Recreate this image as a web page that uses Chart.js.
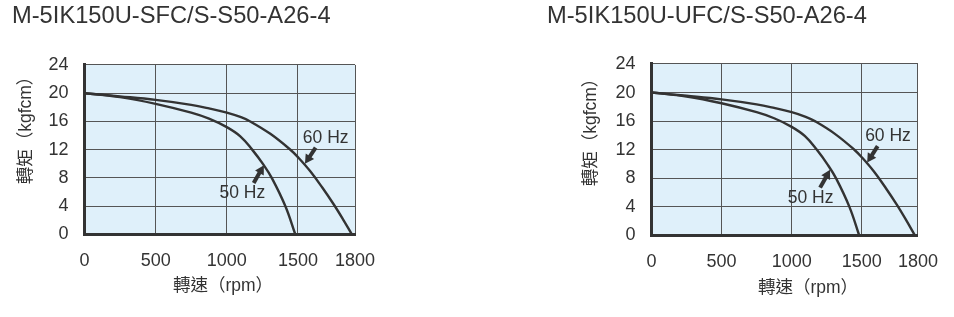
<!DOCTYPE html>
<html>
<head>
<meta charset="utf-8">
<script src="https://cdn.jsdelivr.net/npm/chart.js@4.4.0/dist/chart.umd.min.js"></script>
<style>
  html, body { margin: 0; padding: 0; background: #fff; }
  body { width: 954px; height: 317px; position: relative; overflow: hidden; }
  canvas { position: absolute; top: 0; }
</style>
</head>
<body>
<canvas id="left" width="477" height="317" style="left:0"></canvas>
<canvas id="right" width="477" height="317" style="left:477px"></canvas>
<script>
// torque / speed curves (same motor for both gearheads)
const rpm50 = [0, 250, 500, 750, 875, 1000, 1095, 1177, 1259, 1318, 1412, 1482];
const torque50 = [20, 19.45, 18.5, 17.25, 16.4, 15.2, 13.9, 12.05, 9.85, 7.95, 4.0, 0];
const rpm60 = [0, 250, 500, 750, 875, 1000, 1100, 1165, 1306, 1447, 1500, 1565, 1628, 1686, 1737, 1784];
const torque60 = [20, 19.55, 19.05, 18.35, 17.85, 17.25, 16.6, 16.0, 14.25, 12.0, 10.95, 8.95, 6.65, 4.35, 2.15, 0];

const xTicks = [0, 500, 1000, 1500, 1800];
const yTicks = [0, 4, 8, 12, 16, 20, 24];

const titles = ['M-5IK150U-SFC/S-S50-A26-4', 'M-5IK150U-UFC/S-S50-A26-4'];
const xTitle = '轉速（rpm）';
const yTitle = '轉矩（kgfcm）';
const hzText = ['50 Hz', '60 Hz'];

const LATIN = '"Liberation Sans", "Noto Sans CJK TC", Arial, sans-serif';
const INK = '#333';

// the last column (1500-1800) is drawn narrower than the 500 rpm columns
const BEND_VALUE = 1500;
const BEND_AT = 0.789;

class BentScale extends Chart.LinearScale {
  static id = 'bent';
  static defaults = {};
  getPixelForValue(value) {
    if (value === null || value === undefined || isNaN(value)) return NaN;
    const d = value <= BEND_VALUE
      ? value / BEND_VALUE * BEND_AT
      : BEND_AT + (value - BEND_VALUE) / (this.max - BEND_VALUE) * (1 - BEND_AT);
    return this.getPixelForDecimal(d);
  }
  getValueForPixel(pixel) {
    const d = this.getDecimalForPixel(pixel);
    return d <= BEND_AT
      ? d / BEND_AT * BEND_VALUE
      : BEND_VALUE + (d - BEND_AT) / (1 - BEND_AT) * (this.max - BEND_VALUE);
  }
}
Chart.register(BentScale);

// layout of each panel (canvas pixels) and where the labels/arrows sit (data units)
const panels = [
  {
    id: 'left', padLeft: 12, yAxisW: 72.5, padRight: 122, titleGap: 34.5, xAxisH: 82.5,
    yTitleAt: [26.5, 126], xTitleAt: [223, 286],
    labels: [[1109, 5.8], [1646, 13.7]],
    arrows: [[[1189, 7.3], [1261, 9.8]], [[1593, 12.3], [1537, 10.0]]]
  },
  {
    id: 'right', padLeft: 70, yAxisW: 104.5, padRight: 29.7, titleGap: 33.5, xAxisH: 81.5,
    yTitleAt: [114.5, 128], xTitleAt: [331, 288],
    labels: [[1135, 5.2], [1640, 13.9]],
    arrows: [[[1203, 6.7], [1274, 9.2]], [[1585, 12.5], [1529, 10.2]]]
  }
];

const plotFill = {
  id: 'plotFill',
  beforeDraw(chart) {
    const { ctx, chartArea: a } = chart;
    ctx.save();
    ctx.fillStyle = '#dff0fa';
    ctx.fillRect(a.left, a.top, a.right - a.left, a.bottom - a.top);
    ctx.restore();
  }
};

function drawArrow(ctx, x1, y1, x2, y2) {
  const ang = Math.atan2(y2 - y1, x2 - x1);
  const head = 9, half = 5;
  const bx = x2 - head * Math.cos(ang), by = y2 - head * Math.sin(ang);
  ctx.lineWidth = 4;
  ctx.beginPath();
  ctx.moveTo(x1, y1);
  ctx.lineTo(bx + 0.5 * Math.cos(ang), by + 0.5 * Math.sin(ang));
  ctx.stroke();
  ctx.beginPath();
  ctx.moveTo(x2, y2);
  ctx.lineTo(bx + half * Math.sin(ang), by - half * Math.cos(ang));
  ctx.lineTo(bx - half * Math.sin(ang), by + half * Math.cos(ang));
  ctx.closePath();
  ctx.fill();
}

const extras = {
  id: 'extras',
  afterDatasetsDraw(chart, args, opts) {
    const { ctx, scales: { x, y } } = chart;
    const p = opts.panel;
    ctx.save();
    ctx.fillStyle = INK;
    ctx.strokeStyle = INK;
    ctx.textAlign = 'center';
    ctx.textBaseline = 'middle';

    ctx.font = '17.5px ' + LATIN;
    p.labels.forEach((pt, i) => {
      ctx.fillText(hzText[i], x.getPixelForValue(pt[0]), y.getPixelForValue(pt[1]));
    });
    p.arrows.forEach(([from, to]) => {
      drawArrow(ctx, x.getPixelForValue(from[0]), y.getPixelForValue(from[1]),
        x.getPixelForValue(to[0]), y.getPixelForValue(to[1]));
    });

    // axis titles
    ctx.font = '17.5px ' + LATIN;
    ctx.fillText(xTitle, p.xTitleAt[0], p.xTitleAt[1]);
    ctx.translate(p.yTitleAt[0], p.yTitleAt[1]);
    ctx.rotate(-Math.PI / 2);
    ctx.fillText(yTitle, 0, 0);
    ctx.restore();
  }
};

function build(p, k) {
  const line = {
    borderColor: INK,
    borderWidth: 2.4,
    pointRadius: 0,
    fill: false,
    tension: 0.4
  };
  return new Chart(document.getElementById(p.id), {
    type: 'line',
    data: {
      datasets: [
        { ...line, label: hzText[0], data: rpm50.map((v, i) => ({ x: v, y: torque50[i] })) },
        { ...line, label: hzText[1], data: rpm60.map((v, i) => ({ x: v, y: torque60[i] })) }
      ]
    },
    options: {
      responsive: false,
      animation: false,
      events: [],
      layout: { padding: { left: p.padLeft, right: p.padRight, top: 0, bottom: 0 } },
      plugins: {
        legend: { display: false },
        tooltip: { enabled: false },
        title: {
          display: true,
          text: titles[k],
          align: 'start',
          color: INK,
          font: { family: LATIN, size: 23.7, weight: 'normal' },
          padding: { top: 2, bottom: p.titleGap }
        },
        extras: { panel: p }
      },
      scales: {
        x: {
          type: 'bent',
          min: 0,
          max: 1800,
          afterBuildTicks: s => { s.ticks = xTicks.map(v => ({ value: v })); },
          afterFit: s => { s.height = p.xAxisH; },
          grid: { color: '#555', lineWidth: 1, drawTicks: false },
          border: { display: true, color: INK, width: 3 },
          ticks: {
            autoSkip: false, maxRotation: 0, padding: 16, color: INK,
            font: { family: LATIN, size: 18 },
            callback: v => String(v)
          }
        },
        y: {
          type: 'linear',
          min: 0,
          max: 24,
          afterBuildTicks: s => { s.ticks = yTicks.map(v => ({ value: v })); },
          afterFit: s => { s.width = p.yAxisW; },
          grid: { color: '#555', lineWidth: 1, drawTicks: false },
          border: { display: true, color: INK, width: 3 },
          ticks: {
            padding: 16, color: INK,
            font: { family: LATIN, size: 18 },
            callback: v => String(v)
          }
        }
      }
    },
    plugins: [plotFill, extras]
  });
}

panels.forEach(build);
</script>
</body>
</html>
